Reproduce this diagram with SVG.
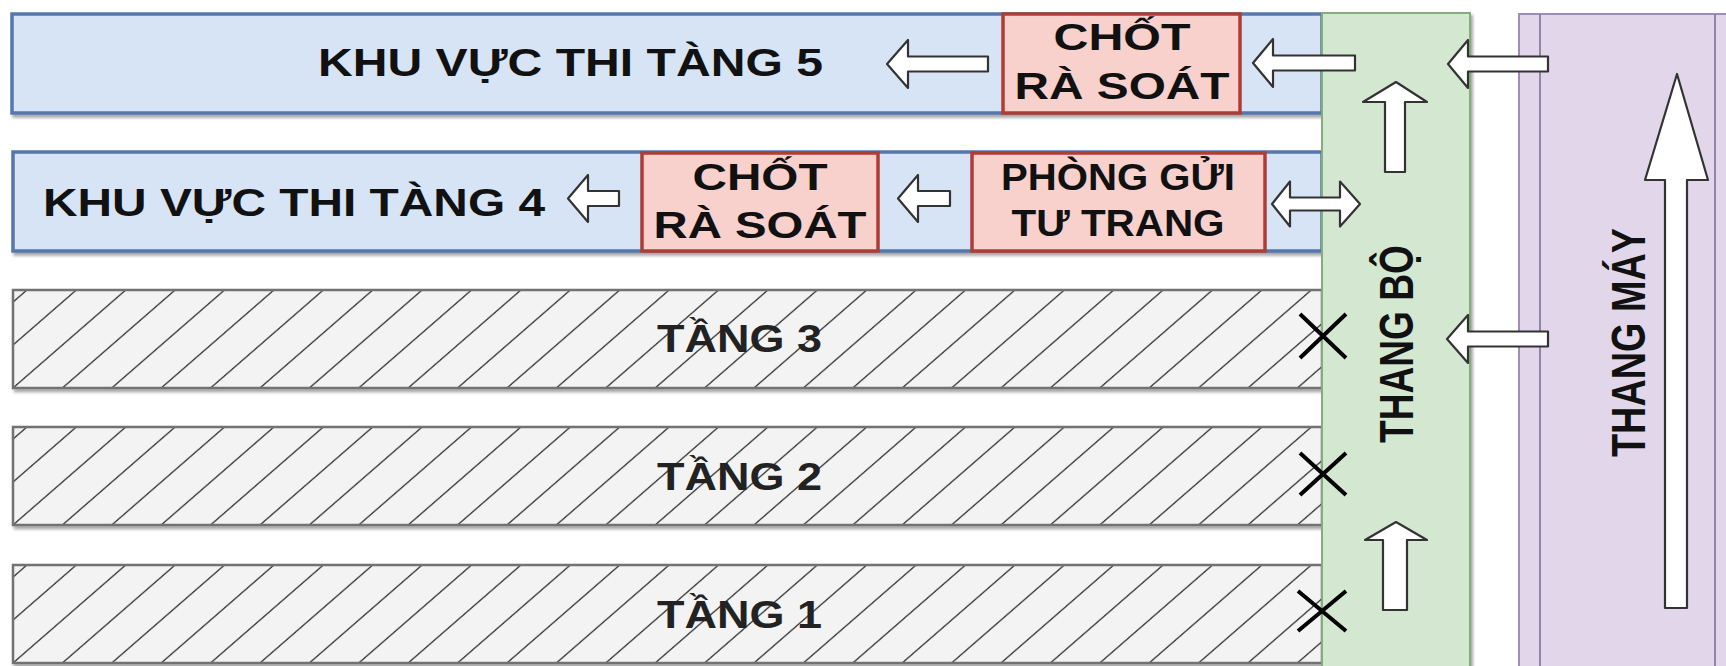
<svg xmlns="http://www.w3.org/2000/svg" width="1726" height="666" viewBox="0 0 1726 666">
<defs>
<filter id="sh" x="-5%" y="-20%" width="110%" height="150%">
<feDropShadow dx="2" dy="3" stdDeviation="1.6" flood-color="#000" flood-opacity="0.35"/>
</filter>
<pattern id="hatch" patternUnits="userSpaceOnUse" x="2.2" y="0" width="49.4" height="20" patternTransform="skewX(-49)">
<rect width="49.4" height="20" fill="#f3f3f3"/>
<line x1="24.7" y1="-1" x2="24.7" y2="21" stroke="#4d4d4d" stroke-width="2.3"/>
</pattern>
</defs>
<style>
.blue{fill:#d6e4f6;stroke:#5577ad;stroke-width:3.5;filter:url(#sh)}
.hat{fill:url(#hatch);stroke:#727272;stroke-width:2.5;filter:url(#sh)}
.red{fill:#f8d0cc;stroke:#b03d35;stroke-width:3.5}
.green{fill:#d3e7d1;stroke:#85ad7c;stroke-width:2;filter:url(#sh)}
.purple{fill:#e2d6ea;stroke:#a08db6;stroke-width:2}
.pline{stroke:#9683ad;stroke-width:2}
.arr{fill:#fff;stroke:#333;stroke-width:2.2;stroke-linejoin:round}
.x{stroke:#000;stroke-width:4;stroke-linecap:butt}
text{font-family:"Liberation Sans",Arial,"DejaVu Sans",sans-serif;font-weight:bold;fill:#111}
.big{font-size:38px}
.box{font-size:37px}
.ht{font-size:38px;fill:#222}
</style>
<rect width="1726" height="666" fill="#fff"/>

<g id="tang5">
<rect class="blue" x="12" y="14" width="1310" height="99"/>
<text class="big" x="318" y="76" textLength="505" lengthAdjust="spacingAndGlyphs">KHU VỰC THI TÀNG 5</text>
</g>
<g id="tang4">
<rect class="blue" x="13" y="152" width="1309" height="99"/>
<text class="big" x="43" y="216" textLength="502" lengthAdjust="spacingAndGlyphs">KHU VỰC THI TÀNG 4</text>
</g>
<g id="tang3" transform="translate(0,290)">
<rect class="hat" x="13" y="0" width="1309" height="98"/>
<text class="ht" x="657" y="62" textLength="165" lengthAdjust="spacingAndGlyphs">TẦNG 3</text>
</g>
<g id="tang2" transform="translate(0,427)">
<rect class="hat" x="13" y="0" width="1309" height="98"/>
<text class="ht" x="657" y="63" textLength="165" lengthAdjust="spacingAndGlyphs">TẦNG 2</text>
</g>
<g id="tang1" transform="translate(0,565)">
<rect class="hat" x="13" y="0" width="1309" height="98"/>
<text class="ht" x="657" y="63" textLength="165" lengthAdjust="spacingAndGlyphs">TẦNG 1</text>
</g>

<g id="chot5">
<rect class="red" x="1003" y="14" width="237" height="99"/>
<text class="box" x="1122" y="50" text-anchor="middle" textLength="137" lengthAdjust="spacingAndGlyphs">CHỐT</text>
<text class="box" x="1122" y="99" text-anchor="middle" textLength="215" lengthAdjust="spacingAndGlyphs">RÀ SOÁT</text>
</g>
<g id="chot4">
<rect class="red" x="642" y="153" width="236" height="98"/>
<text class="box" x="760" y="190" text-anchor="middle" textLength="135" lengthAdjust="spacingAndGlyphs">CHỐT</text>
<text class="box" x="760" y="238" text-anchor="middle" textLength="213" lengthAdjust="spacingAndGlyphs">RÀ SOÁT</text>
</g>
<g id="phong">
<rect class="red" x="972" y="153" width="293" height="98"/>
<text class="box" x="1118" y="190" text-anchor="middle" textLength="234" lengthAdjust="spacingAndGlyphs">PHÒNG GỬI</text>
<text class="box" x="1118" y="236" text-anchor="middle" textLength="213" lengthAdjust="spacingAndGlyphs">TƯ TRANG</text>
</g>

<g id="thangbo">
<rect class="green" x="1322" y="13" width="148" height="660"/>
<text class="big" transform="translate(1413,443) scale(1.27,1) rotate(-90)" textLength="198" lengthAdjust="spacingAndGlyphs">THANG BỘ</text>
</g>
<g id="thangmay">
<rect class="purple" x="1519" y="14" width="222" height="660"/>
<line class="pline" x1="1540" y1="14" x2="1540" y2="670"/>
<line class="pline" x1="1715" y1="14" x2="1715" y2="670"/>
<text class="big" transform="translate(1645,457) scale(1.27,1) rotate(-90)" textLength="229" lengthAdjust="spacingAndGlyphs">THANG MÁY</text>
</g>

<g id="connectors">
<polygon class="arr" points="887,64 908,40 908,56.5 988,56.5 988,71.5 908,71.5 908,88"/>
<polygon class="arr" points="1253,63 1273,39 1273,55.5 1355,55.5 1355,70.5 1273,70.5 1273,87"/>
<polygon class="arr" points="1448,64 1468,40 1468,56.5 1548,56.5 1548,71.5 1468,71.5 1468,88"/>
<polygon class="arr" points="568,198.5 588,175 588,191 619,191 619,206 588,206 588,222"/>
<polygon class="arr" points="898,198.5 918,175 918,191 950,191 950,206 918,206 918,222"/>
<polygon class="arr" points="1272,204 1290,181.5 1290,197.5 1340,197.5 1340,181.5 1360,204 1340,226.5 1340,210.5 1290,210.5 1290,226.5"/>
<polygon class="arr" points="1447,339 1468,315 1468,331.5 1548,331.5 1548,346.5 1468,346.5 1468,363"/>
<polygon class="arr" points="1396,82 1427,102 1405,102 1405,172 1385,172 1385,102 1363,102"/>
<polygon class="arr" points="1396,522 1427,540 1407,540 1407,610 1383,610 1383,540 1365,540"/>
<polygon class="arr" points="1677,74 1708,180 1687,180 1687,608 1665,608 1665,180 1645,180"/>
</g>

<g id="blocked">
<path class="x" d="M1300,314 L1346,358 M1300,358 L1346,314"/>
<path class="x" d="M1300,453 L1346,495 M1300,495 L1346,453"/>
<path class="x" d="M1298,591 L1346,631 M1298,631 L1346,591"/>
</g>
</svg>
